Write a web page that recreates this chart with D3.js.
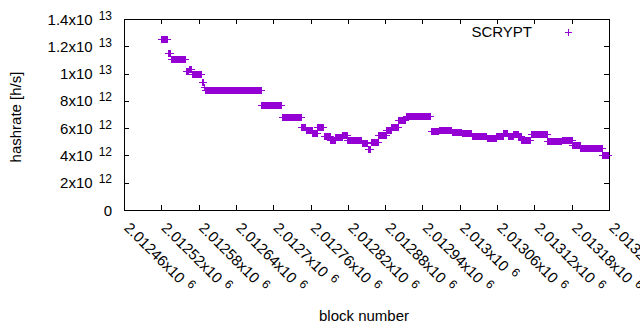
<!DOCTYPE html>
<html>
<head>
<meta charset="utf-8">
<script src="https://cdn.jsdelivr.net/npm/d3@7"></script>
<style>
  body { margin: 0; background: #fff; }
  text { font-family: "Liberation Sans", Arial, sans-serif; fill: #000; }
</style>
</head>
<body>
<div id="chart"></div>
<script>
// runs of blocks with the same hashrate (first block, last block, value)
const runStart = [2012520, 2012530, 2012535, 2012559, 2012564, 2012569, 2012585, 2012588, 2012590, 2012681,
    2012714, 2012745, 2012752, 2012763, 2012771, 2012781, 2012792, 2012800, 2012811, 2012819,
    2012829, 2012842, 2012852, 2012857, 2012869, 2012882, 2012890, 2012901, 2012913, 2012953,
    2012966, 2012987, 2012995, 2013003, 2013019, 2013043, 2013059, 2013070, 2013077, 2013086,
    2013094, 2013099, 2013114, 2013141, 2013164, 2013181, 2013194, 2013229];
const runEnd = [2012529, 2012534, 2012558, 2012563, 2012568, 2012584, 2012587, 2012589, 2012680, 2012713,
    2012744, 2012751, 2012762, 2012770, 2012780, 2012791, 2012799, 2012810, 2012818, 2012828,
    2012841, 2012851, 2012856, 2012868, 2012881, 2012889, 2012900, 2012912, 2012952, 2012965,
    2012986, 2012994, 2013002, 2013018, 2013042, 2013058, 2013069, 2013076, 2013085, 2013093,
    2013098, 2013113, 2013140, 2013163, 2013180, 2013193, 2013228, 2013239];
const hashrate = [12.5e12, 11.5e12, 11.1e12, 10.2e12, 10.3e12, 10.0e12, 9.35e12, 9.0e12, 8.77e12, 7.68e12,
    6.8e12, 6.08e12, 5.89e12, 5.68e12, 6.06e12, 5.45e12, 5.1e12, 5.38e12, 5.47e12, 5.13e12,
    5.1e12, 4.89e12, 4.45e12, 5.0e12, 5.48e12, 5.89e12, 6.08e12, 6.62e12, 6.87e12, 5.77e12,
    5.89e12, 5.74e12, 5.72e12, 5.66e12, 5.42e12, 5.3e12, 5.45e12, 5.62e12, 5.42e12, 5.55e12,
    5.42e12, 5.13e12, 5.55e12, 5.06e12, 5.13e12, 4.74e12, 4.58e12, 4.05e12];

const xTicks = [2012460, 2012520, 2012580, 2012640, 2012700, 2012760, 2012820,
    2012880, 2012940, 2013000, 2013060, 2013120, 2013180, 2013240];
const yTicks = [0, 2e12, 4e12, 6e12, 8e12, 1e13, 1.2e13, 1.4e13];

const seriesName = "SCRYPT";
const color = "#9400d3";

const width = 640, height = 330;
const plotLeft = 124, plotRight = 609, plotTop = 19, plotBottom = 210;
const fontSize = 15, supSize = 12;

const x = d3.scaleLinear().domain([2012460, 2013240]).range([plotLeft, plotRight]);
const y = d3.scaleLinear().domain([0, 1.4e13]).range([plotBottom, plotTop]);

const svg = d3.select("#chart").append("svg")
    .attr("width", width)
    .attr("height", height);

// mantissa / exponent split for gnuplot-like "2x10^12" labels
function sci(v) {
    if (v === 0) return null;
    let e = Math.floor(Math.log10(v) + 1e-9);
    let m = +(v / Math.pow(10, e)).toPrecision(6);
    return {m: String(m), e: String(e)};
}

// ticks (drawn inward, mirrored)
let ticks = svg.append("g").attr("stroke", "#000").attr("shape-rendering", "crispEdges");
yTicks.slice(1, -1).forEach(function (v) {
    let yy = Math.round(y(v)) + 0.5;
    ticks.append("line").attr("x1", plotLeft).attr("x2", plotLeft + 5).attr("y1", yy).attr("y2", yy);
    ticks.append("line").attr("x1", plotRight).attr("x2", plotRight - 5).attr("y1", yy).attr("y2", yy);
});
xTicks.slice(1, -1).forEach(function (v) {
    let xx = Math.round(x(v)) + 0.5;
    ticks.append("line").attr("x1", xx).attr("x2", xx).attr("y1", plotBottom).attr("y2", plotBottom - 5);
    ticks.append("line").attr("x1", xx).attr("x2", xx).attr("y1", plotTop).attr("y2", plotTop + 5);
});

// y tick labels
let yLab = svg.append("g").attr("font-size", fontSize);
yTicks.forEach(function (v) {
    let t = yLab.append("text")
        .attr("x", 112)
        .attr("y", y(v) + 5.5)
        .attr("text-anchor", "end");
    let s = sci(v);
    if (!s) { t.text("0"); return; }
    t.append("tspan").text(s.m + "x10");
    t.append("tspan").attr("dx", 6).attr("dy", -5).attr("font-size", supSize).text(s.e);
});

// x tick labels, rotated
let xLab = svg.append("g").attr("font-size", fontSize);
xTicks.forEach(function (v) {
    let s = sci(v);
    let t = xLab.append("text")
        .attr("transform", "translate(" + (x(v) + 3) + ",225) rotate(45)")
        .attr("dy", "0.35em");
    t.append("tspan").text(s.m + "x10");
    t.append("tspan").attr("dx", 6).attr("dy", -5).attr("font-size", supSize).text(s.e);
});

// border
svg.append("rect")
    .attr("x", plotLeft + 0.5).attr("y", plotTop + 0.5)
    .attr("width", plotRight - plotLeft).attr("height", plotBottom - plotTop)
    .attr("fill", "none").attr("stroke", "#000")
    .attr("shape-rendering", "crispEdges");

// points: each run of '+' marks overlaps into a block with arms
let runs = d3.range(runStart.length).map(function (i) {
    return {s: runStart[i], e: runEnd[i], v: hashrate[i]};
});
let pts = svg.append("g").attr("shape-rendering", "crispEdges");
pts.selectAll("rect")
    .data(runs)
    .enter()
    .append("rect")
    .attr("x", function (d) { return Math.round(x(d.s)); })
    .attr("width", function (d) { return Math.max(1, Math.round(x(d.e)) - Math.round(x(d.s)) + 1); })
    .attr("y", function (d) { return Math.round(y(d.v)) - 3; })
    .attr("height", 7)
    .attr("fill", color);
pts.selectAll("line")
    .data(runs)
    .enter()
    .append("line")
    .attr("x1", function (d) { return Math.round(x(d.s)) - 3; })
    .attr("x2", function (d) { return Math.round(x(d.e)) + 4; })
    .attr("y1", function (d) { return Math.round(y(d.v)) + 0.5; })
    .attr("y2", function (d) { return Math.round(y(d.v)) + 0.5; })
    .attr("stroke", color);

// legend
svg.append("text")
    .attr("x", 532).attr("y", 37)
    .attr("text-anchor", "end")
    .attr("font-size", fontSize)
    .text(seriesName);
svg.append("path")
    .attr("d", "M564.5,32.5h7M568,29v7")
    .attr("stroke", color)
    .attr("shape-rendering", "crispEdges");

// axis titles
svg.append("text")
    .attr("x", 364).attr("y", 321)
    .attr("text-anchor", "middle")
    .attr("font-size", fontSize)
    .text("block number");
svg.append("text")
    .attr("transform", "translate(21,117) rotate(-90)")
    .attr("text-anchor", "middle")
    .attr("font-size", fontSize)
    .text("hashrate [h/s]");
</script>
</body>
</html>
